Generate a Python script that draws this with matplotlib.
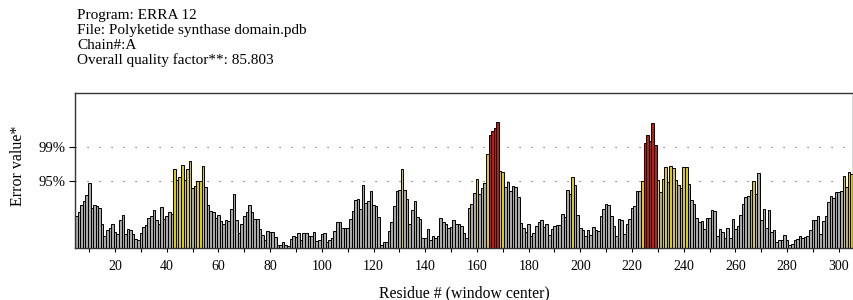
import numpy as np
import matplotlib.pyplot as plt

plt.rcParams['font.family'] = ['Liberation Serif', 'DejaVu Serif']

# ERRAT error value per 9-residue window, residues 5..305
first_residue = 5
error_values = [
    5.54, 6.11, 7.37, 8.06, 9.09, 11.03, 6.8, 7.37, 7.14, 6.91,
    4.17, 2.0, 3.03, 3.49, 4.17, 2.8, 2.46, 4.74, 5.71, 2.46,
    3.2, 3.03, 2.46, 1.54, 1.31, 2.57, 3.6, 3.94, 5.09, 5.54,
    6.57, 4.74, 4.06, 7.03, 4.97, 5.54, 6.11, 5.89, 13.54, 11.71,
    12.17, 14.11, 11.71, 13.54, 14.91, 10.34, 10.57, 11.5, 11.45, 14.0,
    10.46, 7.37, 6.34, 6.23, 5.2, 5.66, 4.63, 4.06, 4.74, 4.63,
    6.69, 9.31, 4.74, 2.57, 4.17, 5.54, 6.11, 7.37, 6.23, 4.97,
    4.97, 3.26, 2.23, 1.43, 2.91, 2.8, 2.8, 1.89, 0.51, 0.51,
    0.97, 0.51, 0.4, 1.54, 2.11, 1.89, 2.57, 1.43, 2.57, 2.57,
    2.11, 2.11, 2.69, 1.2, 1.31, 2.46, 2.57, 1.09, 1.31, 1.66,
    2.91, 4.51, 4.51, 3.49, 3.37, 3.49, 4.97, 6.34, 8.17, 8.4,
    6.69, 10.8, 7.71, 8.06, 9.66, 7.37, 7.14, 5.31, 0.51, 0.97,
    1.09, 2.91, 4.4, 7.14, 9.66, 10.0, 13.54, 10.0, 8.4, 4.17,
    6.46, 8.06, 5.31, 4.97, 1.77, 1.66, 3.26, 1.43, 2.0, 1.77,
    2.11, 5.2, 4.51, 4.06, 3.37, 3.6, 4.74, 4.17, 4.06, 3.83,
    2.57, 1.77, 6.8, 7.6, 9.43, 11.83, 9.2, 10.23, 11.03, 16.06,
    19.26, 20.06, 20.51, 21.54, 13.2, 12.97, 10.46, 11.2, 9.77, 10.57,
    10.46, 8.74, 4.29, 3.49, 2.69, 4.17, 2.11, 2.57, 3.83, 4.4,
    4.86, 3.6, 4.17, 2.23, 3.26, 3.83, 3.94, 3.94, 5.89, 5.31,
    9.89, 9.31, 12.17, 10.8, 5.66, 3.49, 3.14, 2.11, 3.03, 2.23,
    3.6, 3.03, 2.91, 5.54, 6.69, 7.6, 7.37, 5.54, 3.83, 2.0,
    4.97, 4.74, 2.34, 4.17, 4.97, 6.91, 7.26, 9.77, 9.77, 11.45,
    18.0, 19.26, 18.23, 21.31, 17.54, 11.6, 9.6, 11.83, 13.77, 11.2,
    13.95, 13.7, 11.55, 10.8, 10.34, 13.77, 13.89, 11.0, 8.2, 7.6,
    5.2, 4.51, 4.63, 3.26, 5.2, 5.2, 6.57, 6.34, 2.0, 3.26,
    2.69, 1.66, 3.37, 1.66, 4.97, 3.26, 3.83, 5.66, 7.6, 8.74,
    8.86, 9.89, 11.45, 9.2, 12.74, 4.74, 6.69, 3.49, 6.46, 2.8,
    3.14, 1.09, 1.31, 1.43, 2.23, 1.43, 0.51, 0.74, 1.43, 1.54,
    2.11, 1.66, 1.89, 2.0, 3.03, 4.74, 4.74, 5.54, 2.34, 4.63,
    5.43, 7.94, 8.86, 8.51, 9.54, 9.54, 9.77, 12.29, 10.46, 12.97,
    12.63,
]
residues = np.arange(first_residue, first_residue + len(error_values))

# residues flagged by ERRAT (rejected at 95% / 99% confidence)
flag_95 = [43, 44, 45, 46, 47, 48, 49, 52, 53, 54, 131, 160, 164, 169, 170,
           197, 224, 230, 232, 233, 235, 236, 237, 240, 241, 267, 302, 304, 305]
flag_99 = [165, 166, 167, 168, 225, 226, 227, 228, 229]

limit_95 = 11.38
limit_99 = 17.19

header = [
    "Program: ERRA 12",
    "File: Polyketide synthase domain.pdb",
    "Chain#:A",
    "Overall quality factor**: 85.803",
]

colors = []
for r in residues:
    if r in flag_99:
        colors.append('#c01c12')
    elif r in flag_95:
        colors.append('#d8ca18')
    else:
        colors.append('#a8a8a8')

fig = plt.figure(figsize=(8.54, 3.0), dpi=100)
ax = fig.add_axes([75 / 854, 52 / 300, 778 / 854, 155 / 300])

ax.bar(residues, error_values, width=1.0, color=colors,
       edgecolor='black', linewidth=0.7)

# confidence lines
for lim in (limit_95, limit_99):
    ax.axhline(lim, color='#555555', lw=0.8, linestyle=(0, (1, 9.8)), zorder=0)

ax.set_xlim(4.5, 305.5)
ax.set_ylim(0, 26.5)

ax.set_xticks(np.arange(10, 301, 10), minor=True)
ax.set_xticks(np.arange(20, 301, 20))
ax.tick_params(axis='x', which='both', direction='out', length=3, width=0.8,
               labelsize=10, pad=6)
ax.set_yticks([limit_95, limit_99])
ax.set_yticklabels(['95%', '99%'])
ax.tick_params(axis='y', direction='out', length=4, width=0.8, labelsize=10.5, pad=3)

for s in ax.spines.values():
    s.set_color('#333333')
    s.set_linewidth(1.0)

ax.set_xlabel("Residue # (window center)", fontsize=11.3, labelpad=8.5)
ax.set_ylabel("Error value*", fontsize=11.5)
ax.yaxis.set_label_coords(-0.063, 0.53)

for i, line in enumerate(header):
    fig.text(77 / 854, 1 - (19.3 + 14.9 * i) / 300, line, fontsize=11,
             ha='left', va='baseline')

fig.savefig("out.png", dpi=100)
